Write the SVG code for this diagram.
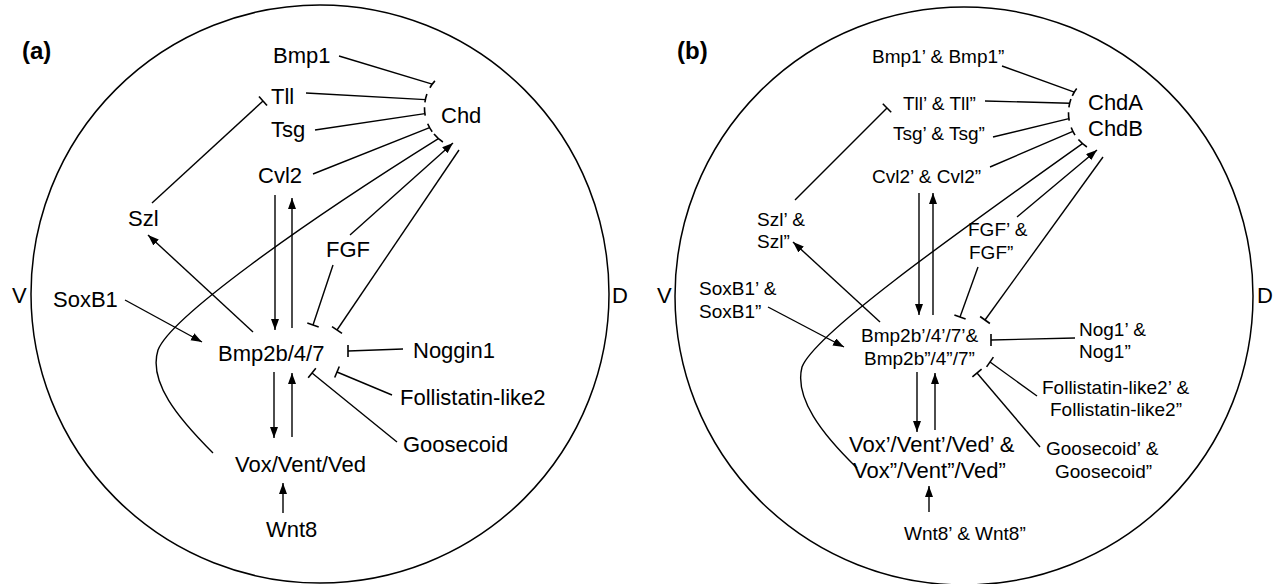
<svg xmlns="http://www.w3.org/2000/svg" width="1276" height="584" viewBox="0 0 1276 584">
<defs>
<marker id="arr" markerUnits="userSpaceOnUse" markerWidth="12" markerHeight="10" refX="11" refY="4" orient="auto">
<path d="M0,0 L11,4 L0,8 z" fill="#000"/>
</marker>
</defs>
<style>
text{font-family:"Liberation Sans",Arial,Helvetica,sans-serif;fill:#000}
.a{font-size:22px}
.b{font-size:19px}
.lab{font-size:24px;font-weight:bold}
.ln{stroke:#000;stroke-width:1.4;fill:none}
.ar{marker-end:url(#arr)}
.bar{stroke:#000;stroke-width:1.6;fill:none}
.emb{stroke:#000;stroke-width:1.5;fill:none}
</style>
<rect width="1276" height="584" fill="#fff"/>

<g id="embryo-a"><circle class="emb" cx="320" cy="294" r="289"/></g>
<g id="embryo-b"><circle class="emb" cx="964" cy="296" r="289"/></g>

<g id="connectors-a">
<line class="ln" x1="339" y1="56" x2="432.2" y2="84.2"/>
<line class="ln" x1="306" y1="93" x2="425.4" y2="99.6"/>
<line class="ln" x1="315" y1="130" x2="424.9" y2="113.6"/>
<line class="ln" x1="313" y1="174" x2="429.6" y2="127.6"/>
<path class="ln" d="M213,453 C178,418 148,382 158,350 C170,318 300,225 438.4,138.6"/>
<path class="bar" d="M429.9,87.75 A40.5,40.5 0 0 1 434.9,80.9 M424.9,102.4 A40.5,40.5 0 0 1 426.9,94.1 M425.2,115.7 A40.5,40.5 0 0 1 424.5,107.3 M432.2,131.8 A40.5,40.5 0 0 1 427.7,123.8 M442.9,142 A40.5,40.5 0 0 1 434,134"/>
<line class="ln ar" x1="350" y1="235" x2="453" y2="143"/>
<line class="ln" x1="459" y1="150" x2="337" y2="330"/>
<line class="bar" x1="332" y1="326.6" x2="342" y2="333.4"/>
<line class="ln" x1="333" y1="265" x2="313" y2="325"/>
<line class="bar" x1="307.3" y1="323.1" x2="318.7" y2="326.9"/>
<line class="ln" x1="403" y1="349" x2="348" y2="351"/>
<line class="bar" x1="348" y1="345" x2="348" y2="357"/>
<line class="ln" x1="392" y1="395" x2="337" y2="372"/>
<line class="bar" x1="339.3" y1="366.5" x2="334.7" y2="377.5"/>
<line class="ln" x1="397" y1="442" x2="312" y2="373"/>
<line class="bar" x1="315.8" y1="368.3" x2="308.2" y2="377.7"/>
<line class="ln ar" x1="125" y1="300" x2="202" y2="342"/>
<line class="ln ar" x1="253" y1="332" x2="148" y2="235"/>
<line class="ln" x1="152" y1="203" x2="263" y2="101"/>
<line class="bar" x1="259" y1="96.5" x2="267" y2="105.5"/>
<line class="ln ar" x1="275" y1="195" x2="275" y2="330"/>
<line class="ln ar" x1="292" y1="328" x2="292" y2="198"/>
<line class="ln ar" x1="274" y1="372" x2="274" y2="438"/>
<line class="ln ar" x1="292" y1="437" x2="292" y2="373"/>
<line class="ln ar" x1="283" y1="513" x2="283" y2="483"/>
</g>

<g id="connectors-b">
<line class="ln" x1="1002" y1="66" x2="1074.3" y2="92.1"/>
<line class="ln" x1="985" y1="101" x2="1069.7" y2="103.2"/>
<line class="ln" x1="993" y1="137" x2="1068.9" y2="118.6"/>
<line class="ln" x1="990" y1="167" x2="1072.9" y2="131.4"/>
<path class="ln" d="M857,468 C822,434 794,398 802,367 C814,335 944,242 1082.4,143.6"/>
<path class="bar" d="M1072.3,95.9 A40.5,40.5 0 0 1 1076.7,88.6 M1068.9,107.4 A40.5,40.5 0 0 1 1070.9,99.1 M1069.2,120.7 A40.5,40.5 0 0 1 1068.5,112.3 M1075,135.1 A40.5,40.5 0 0 1 1071.2,127.5 M1086.9,147 A40.5,40.5 0 0 1 1078.4,139.6"/>
<line class="ln ar" x1="1017" y1="217" x2="1097" y2="150"/>
<line class="ln" x1="1103" y1="157" x2="985" y2="320"/>
<line class="bar" x1="980.1" y1="316.5" x2="989.9" y2="323.5"/>
<line class="ln" x1="978" y1="267" x2="960" y2="317"/>
<line class="bar" x1="954.4" y1="315" x2="965.6" y2="319"/>
<line class="ln" x1="1075" y1="338" x2="991" y2="340"/>
<line class="bar" x1="991" y1="334" x2="991" y2="346"/>
<line class="ln" x1="1037" y1="396" x2="990" y2="362"/>
<line class="bar" x1="993.4" y1="357.1" x2="986.6" y2="366.9"/>
<line class="ln" x1="1040" y1="447" x2="977" y2="373"/>
<line class="bar" x1="981.6" y1="369.1" x2="972.4" y2="376.9"/>
<line class="ln ar" x1="768" y1="307" x2="844" y2="347"/>
<line class="ln ar" x1="880" y1="322" x2="793" y2="242"/>
<line class="ln" x1="795" y1="200" x2="887" y2="108"/>
<line class="bar" x1="882.8" y1="103.8" x2="891.2" y2="112.2"/>
<line class="ln ar" x1="919" y1="193" x2="919" y2="315"/>
<line class="ln ar" x1="933" y1="315" x2="933" y2="193"/>
<line class="ln ar" x1="917" y1="372" x2="917" y2="432"/>
<line class="ln ar" x1="935" y1="430" x2="935" y2="373"/>
<line class="ln ar" x1="929" y1="512" x2="929" y2="486"/>
</g>

<g id="label-a"><text class="lab" x="22" y="59">(a)</text></g>
<g id="axis-a"><text class="a" x="12" y="303">V</text><text class="a" x="612" y="303">D</text></g>
<g id="n-bmp1"><text class="a" x="273" y="63">Bmp1</text></g>
<g id="n-tll"><text class="a" x="271" y="104">Tll</text></g>
<g id="n-tsg"><text class="a" x="271" y="137">Tsg</text></g>
<g id="n-chd"><text class="a" x="441" y="123">Chd</text></g>
<g id="n-cvl2"><text class="a" x="258" y="183">Cvl2</text></g>
<g id="n-szl"><text class="a" x="128" y="226">Szl</text></g>
<g id="n-fgf"><text class="a" x="326" y="257">FGF</text></g>
<g id="n-soxb1"><text class="a" x="53" y="307">SoxB1</text></g>
<g id="n-bmp247"><text class="a" x="218" y="361">Bmp2b/4/7</text></g>
<g id="n-noggin1"><text class="a" x="413" y="358">Noggin1</text></g>
<g id="n-fstl2"><text class="a" x="400" y="405">Follistatin-like2</text></g>
<g id="n-gsc"><text class="a" x="403" y="452">Goosecoid</text></g>
<g id="n-vox"><text class="a" x="235" y="472">Vox/Vent/Ved</text></g>
<g id="n-wnt8"><text class="a" x="266" y="537">Wnt8</text></g>

<g id="label-b"><text class="lab" x="677" y="59">(b)</text></g>
<g id="axis-b"><text class="a" x="657" y="303">V</text><text class="a" x="1257" y="303">D</text></g>
<g id="m-bmp1"><text class="b" x="872" y="63">Bmp1’ &amp; Bmp1”</text></g>
<g id="m-tll"><text class="b" x="903" y="110">Tll’ &amp; Tll”</text></g>
<g id="m-tsg"><text class="b" x="893" y="140">Tsg’ &amp; Tsg”</text></g>
<g id="m-chd"><text class="a" x="1088" y="110">ChdA</text><text class="a" x="1088" y="136">ChdB</text></g>
<g id="m-cvl2"><text class="b" x="872" y="183">Cvl2’ &amp; Cvl2”</text></g>
<g id="m-szl"><text class="b" x="757" y="226">Szl’ &amp;</text><text class="b" x="757" y="248">Szl”</text></g>
<g id="m-fgf"><text class="b" x="968" y="236">FGF’ &amp;</text><text class="b" x="969" y="259">FGF”</text></g>
<g id="m-soxb1"><text class="b" x="699" y="295">SoxB1’ &amp;</text><text class="b" x="699" y="318">SoxB1”</text></g>
<g id="m-bmp247"><text class="b" x="861" y="342">Bmp2b’/4’/7’&amp;</text><text class="b" x="864" y="365">Bmp2b”/4”/7”</text></g>
<g id="m-nog1"><text class="b" x="1079" y="336">Nog1’ &amp;</text><text class="b" x="1079" y="358">Nog1”</text></g>
<g id="m-fstl2"><text class="b" x="1042" y="394">Follistatin-like2’ &amp;</text><text class="b" x="1050" y="416">Follistatin-like2”</text></g>
<g id="m-gsc"><text class="b" x="1046" y="455">Goosecoid’ &amp;</text><text class="b" x="1055" y="478">Goosecoid”</text></g>
<g id="m-vox"><text class="a" x="849" y="452">Vox’/Vent’/Ved’ &amp;</text><text class="a" x="853" y="478">Vox”/Vent”/Ved”</text></g>
<g id="m-wnt8"><text class="b" x="904" y="540">Wnt8’ &amp; Wnt8”</text></g>
</svg>
